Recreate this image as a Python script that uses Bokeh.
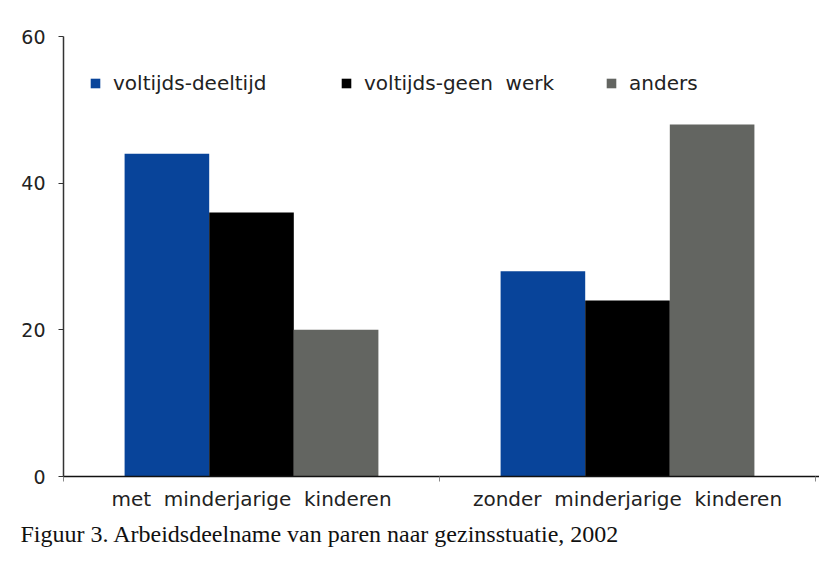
from bokeh.plotting import figure
from bokeh.models import (Range1d, FixedTicker, Legend, LegendItem, Title, ColumnDataSource)
from bokeh.embed import file_html
from bokeh.resources import INLINE

categories = ["met\u00a0 minderjarige\u00a0 kinderen", "zonder\u00a0 minderjarige\u00a0 kinderen"]
series = ["voltijds-deeltijd", "voltijds-geen\u00a0 werk", "anders"]
voltijds_deeltijd = [44, 28]
voltijds_geen_werk = [36, 24]
anders = [20, 48]
y_ticks = [0, 20, 40, 60]
caption = "Figuur 3. Arbeidsdeelname van paren naar gezinsstuatie, 2002"

colors = ["#08449a", "#000000", "#636561"]
values = [voltijds_deeltijd, voltijds_geen_werk, anders]
offsets = [-0.225, 0.0, 0.225]
bar_w = 0.225

p = figure(width=819, height=560, output_backend="svg", toolbar_location=None,
           x_range=Range1d(0, 2.0106), y_range=Range1d(0, 60),
           min_border_left=63, min_border_right=0, min_border_top=36, min_border_bottom=84)
p.grid.visible = False
p.outline_line_color = None
p.background_fill_color = "white"
p.border_fill_color = "white"

renderers = []
for vals, col, off in zip(values, colors, offsets):
    xs = [i + 0.5 + off for i in range(len(categories))]
    src = ColumnDataSource(dict(x=xs, top=vals))
    r = p.vbar(x="x", top="top", width=bar_w, source=src, fill_color=col, line_color=None)
    renderers.append(r)

# y axis
p.yaxis.ticker = FixedTicker(ticks=y_ticks)
p.yaxis.minor_tick_line_color = None
p.yaxis.major_tick_in = 0
p.yaxis.major_tick_out = 5
p.yaxis.major_label_standoff = 13
p.yaxis.major_label_text_font = "DejaVu Sans"
p.yaxis.major_label_text_font_size = "19px"
p.yaxis.major_label_text_color = "#222222"
p.yaxis.axis_line_color = "#333333"
p.yaxis.axis_line_width = 1.5
p.yaxis.major_tick_line_color = "#333333"

# x axis: labels at group centres, ticks at group boundaries
xt = FixedTicker(ticks=[0.5, 1.5], minor_ticks=[0, 1, 2])
p.xaxis.ticker = xt
p.xaxis.major_label_overrides = {0.5: categories[0], 1.5: categories[1]}
p.xaxis.major_tick_in = 0
p.xaxis.major_tick_out = 0
p.xaxis.minor_tick_in = 0
p.xaxis.minor_tick_out = 5
p.xaxis.minor_tick_line_color = "#888888"
p.xaxis.major_label_standoff = 5
p.xaxis.major_label_text_font = "DejaVu Sans"
p.xaxis.major_label_text_font_size = "20px"
p.xaxis.major_label_text_color = "#222222"
p.xaxis.axis_line_color = "#111111"
p.xaxis.axis_line_width = 1.5

legend_x = [26, 277, 542]
for name, r, lx in zip(series, renderers, legend_x):
    lg = Legend(items=[LegendItem(label=name, renderers=[r])], location=(lx, 381),
                orientation="horizontal", padding=0, margin=0, border_line_color=None,
                background_fill_alpha=0, glyph_width=12, glyph_height=12,
                label_standoff=12, label_text_font="DejaVu Sans",
                label_text_font_size="20px", label_text_color="#222222", label_height=12)
    p.add_layout(lg)

spacer = Title(text=" ", standoff=0, text_font_size="7px", text_alpha=0)
p.add_layout(spacer, "below")

cap = Title(text=caption, align="left", offset=-43, standoff=10,
            text_font="Liberation Serif", text_font_size="24px", text_color="#111111",
            text_font_style="normal")
p.add_layout(cap, "below")

open("out.html", "w").write(file_html(p, INLINE))
